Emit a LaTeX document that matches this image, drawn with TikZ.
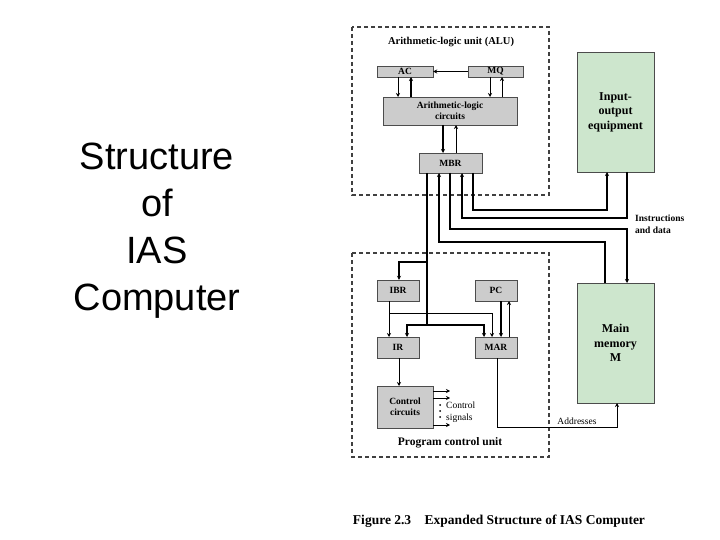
\documentclass[tikz,border=0pt]{standalone}
\usepackage{fontspec}
\setmainfont{Liberation Serif}
\newfontfamily\sansf{Liberation Sans}
\usetikzlibrary{arrows.meta}
\definecolor{boxgray}{HTML}{CCCCCC}
\definecolor{iogreen}{HTML}{CDE6CD}
\begin{document}
\begin{tikzpicture}[x=1pt,y=-1pt,
  reg/.style={draw=black!70,fill=boxgray,font=\fontsize{9.5}{11}\selectfont\bfseries,align=center,inner sep=0pt},
  big/.style={draw=black!70,fill=iogreen,font=\fontsize{12}{14.5}\selectfont\bfseries,align=center,inner sep=0pt},
  unit/.style={draw=black!75,dash pattern=on 4pt off 3pt,line width=1.3pt},
  bus/.style={line width=1.6pt,-{Stealth[length=4pt,width=4pt]}},
  busn/.style={line width=1.6pt},
  thin/.style={line width=0.8pt,-{Stealth[length=4pt,width=4pt]}},
  lbl/.style={font=\fontsize{10.5}{12}\selectfont\bfseries,align=left,inner sep=0pt}]
\useasboundingbox (0,0) rectangle (720,540);
\fill[white] (0,0) rectangle (720,540);
% left title
\node[font=\sansf\fontsize{38}{47}\selectfont,align=center] (title) at (157,231) {Structure\\of\\IAS\\Computer};
% units
\draw[unit] (352,27) rectangle (549,195);
\draw[unit] (352,253) rectangle (549,457);
\node[lbl] (alu) at (451,42) {Arithmetic-logic unit (ALU)};
\node[font=\fontsize{11.5}{12}\selectfont\bfseries,inner sep=0pt] (pcu) at (450,443) {Program control unit};
% registers
\node[reg,minimum width=56pt,minimum height=11pt] (ac) at (405,71.5) {AC};
\node[reg,minimum width=55pt,minimum height=11pt] (mq) at (495.5,71.5) {MQ};
\node[reg,minimum width=134pt,minimum height=28pt] (alc) at (450,111) {Arithmetic-logic\\circuits};
\node[reg,minimum width=63pt,minimum height=20pt] (mbr) at (450.5,163) {MBR};
\node[reg,minimum width=42pt,minimum height=21pt] (ibr) at (398,290.5) {IBR};
\node[reg,minimum width=42pt,minimum height=21pt] (pc) at (496,290.5) {PC};
\node[reg,minimum width=42pt,minimum height=21pt] (ir) at (398,347.5) {IR};
\node[reg,minimum width=42pt,minimum height=21pt] (mar) at (496,347.5) {MAR};
\node[reg,minimum width=56pt,minimum height=42pt] (cc) at (405,407) {Control\\circuits};
\node[big,minimum width=77pt,minimum height=120pt] (io) at (615.5,112) {Input-\\output\\equipment};
\node[big,minimum width=77pt,minimum height=120pt] (mem) at (615.5,343) {Main\\memory\\M};
% ALU connections
\draw[bus] (mq.west) -- (ac.east);
\draw[thin] (398,77) -- (398,97);
\draw[bus] (411,97) -- (411,77);
\draw[thin] (490,77) -- (490,97);
\draw[thin] (502,97) -- (502,77);
\draw[bus] (443,125) -- (443,153);
\draw[thin] (456,153) -- (456,125);
% buses MBR <-> IO / memory
\coordinate (m1) at (473,173); \coordinate (m2) at (462,173);
\coordinate (m3) at (450,173); \coordinate (m4) at (439,173);
\coordinate (m5) at (427,173);
\draw[bus] (m1) -- (473,210) -- (607,210) -- (607,172);
\draw[bus] (627,172) -- (627,218) -- (462,218) -- (m2);
\draw[bus] (m3) -- (450,229) -- (627,229) -- (627,283);
\draw[bus] (605,283) -- (605,242) -- (439,242) -- (m4);
\node[lbl,font=\fontsize{9.5}{12}\selectfont\bfseries] (inst) at (635,224) [anchor=west] {Instructions\\and data};
% into control unit
\draw[busn] (m5) -- (427,325);
\draw[bus] (427,262) -- (399,262) -- (ibr.north -| 399,0);
\draw[bus] (427,325) -- (407,325) -- (407,337);
\draw[bus] (427,325) -- (484,325) -- (484,337);
\draw[thin] (389,301) -- (389,337);
\draw[thin] (389,313) -- (492,313) -- (492,337);
\draw[bus] (501,301) -- (501,337);
\draw[thin] (509,337) -- (509,301);
\draw[thin] (399,358) -- (399,386);
% control signals
\draw[thin] (433,391) -- (450,391);
\draw[thin] (433,398) -- (450,398);
\draw[thin] (433,425) -- (450,425);
\foreach \yy in {405,411,417} \fill (440,\yy) circle (1pt);
\node[font=\fontsize{9.5}{12}\selectfont,align=left,anchor=west,inner sep=0pt] (cs) at (446,412) {Control\\signals};
% addresses
\draw[thin] (497,358) -- (497,427) -- (617,427) -- (617,403);
\node[font=\fontsize{9.5}{9}\selectfont,inner sep=0pt] (addr) at (577,421) {Addresses};
% caption
\node[font=\fontsize{13.5}{14}\selectfont\bfseries,inner sep=0pt] (cap) at (499,521) {Figure 2.3\quad Expanded Structure of IAS Computer};
\end{tikzpicture}
\end{document}
